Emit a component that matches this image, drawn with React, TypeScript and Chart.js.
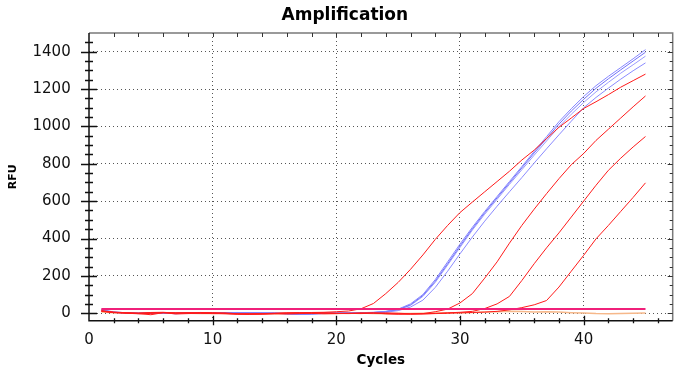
import { useEffect, useRef } from 'react';
import { Chart, registerables } from 'chart.js';

Chart.register(...registerables);

const cycles = [1, 2, 3, 4, 5, 6, 7, 8, 9, 10, 11, 12, 13, 14, 15, 16, 17, 18, 19, 20, 21, 22, 23, 24, 25, 26, 27, 28, 29, 30, 31, 32, 33, 34, 35, 36, 37, 38, 39, 40, 41, 42, 43, 44, 45];

const red1 = [14, 6, 3, 1, 4, 5, 1, 2, 0, -2, -3, -4, -3, -2, 0, 2, 3, 4, 5, 8, 12, 24, 52, 105, 165, 235, 312, 395, 470, 539, 595, 650, 705, 760, 820, 873, 935, 995, 1045, 1096, 1132, 1170, 1210, 1245, 1280];
const red2 = [10, 4, 2, -2, -8, 3, 2, 1, 4, 3, -1, -5, -6, -5, -3, -4, -2, 0, 1, -1, -2, 0, 1, -3, -5, -4, -2, 8, 22, 55, 105, 188, 275, 375, 470, 557, 640, 720, 795, 855, 925, 985, 1045, 1105, 1163];
const red3 = [12, 5, 1, 0, 2, 4, -4, -2, 0, 1, 2, -3, -4, -3, -1, 1, 2, -1, -3, -2, 0, 2, 1, -2, -4, -5, -3, -1, 2, 5, 10, 25, 50, 90, 175, 265, 350, 430, 515, 600, 685, 765, 830, 890, 946];
const red4 = [11, 3, 0, -3, -1, 2, 0, 3, 2, 0, -2, -4, -5, -4, -2, 0, 1, 3, 2, 0, -1, -2, 1, 2, 0, -3, -4, -2, 0, 2, 4, 6, 10, 18, 30, 45, 68, 140, 225, 310, 398, 470, 545, 620, 698];

const blue1 = [18, 5, 2, 0, 1, 0, -2, 2, 3, 1, 2, 3, 3, 2, 1, -3, -6, -3, 0, 1, 2, 3, 5, 10, 22, 50, 100, 180, 275, 370, 460, 545, 625, 705, 785, 866, 945, 1025, 1095, 1160, 1218, 1268, 1315, 1362, 1411];
const blue2 = [16, 6, 3, 1, 0, -1, 0, 3, 4, 2, 3, 4, 2, 1, 0, -2, -5, -4, -1, 0, 1, 2, 4, 9, 20, 45, 95, 172, 265, 360, 452, 538, 618, 698, 778, 858, 935, 1012, 1082, 1145, 1204, 1255, 1303, 1350, 1397];
const blue3 = [20, 7, 2, -1, 1, 2, -1, 1, 2, 0, 1, 2, 4, 3, 2, -1, -4, -2, 1, 2, 3, 2, 3, 8, 18, 42, 90, 165, 258, 352, 445, 530, 610, 690, 768, 846, 922, 998, 1065, 1128, 1185, 1236, 1285, 1330, 1376];
const blue4 = [17, 4, 1, -2, 0, 1, -3, 0, 1, -1, 0, 1, 2, 1, 0, -4, -7, -5, -2, -1, 0, 1, 2, 5, 14, 33, 70, 138, 225, 318, 408, 493, 573, 650, 726, 804, 880, 955, 1028, 1100, 1155, 1205, 1253, 1298, 1340];

const orange = [6, 3, 1, 0, -1, 1, 2, 0, -1, -2, 1, 2, 0, -1, -3, -2, 0, 1, -1, -2, 0, 1, -2, -3, -2, -1, 0, 1, 2, 3, 4, 6, 8, 10, 9, 7, 8, 6, 3, 1, -2, -3, -1, 0, 1];

const threshold = 23;

const xTickLabels = [0, 10, 20, 30, 40];
const yTickLabels = [0, 200, 400, 600, 800, 1000, 1200, 1400];

const X_MIN = 0;
const X_MAX = 47.2;
const Y_MIN = -40;
const Y_MAX = 1500;

const pts = (vals: number[]) => cycles.map((c, i) => ({ x: c, y: vals[i] }));

const framePlugin = {
  id: 'frame',
  afterDatasetsDraw(chart: any) {
    const { ctx, chartArea } = chart;
    const { left, right, top, bottom } = chartArea;
    const xs = chart.scales.x;
    const ys = chart.scales.y;
    ctx.save();
    ctx.strokeStyle = '#7a7a7a';
    ctx.lineWidth = 1.5;
    ctx.beginPath();
    ctx.moveTo(left, top);
    ctx.lineTo(right, top);
    ctx.lineTo(right, bottom);
    ctx.stroke();
    ctx.lineWidth = 1;
    ctx.strokeStyle = '#333';
    ctx.beginPath();
    for (let v = 2; v < X_MAX; v += 2) {
      const px = Math.round(xs.getPixelForValue(v)) + 0.5;
      ctx.moveTo(px, top);
      ctx.lineTo(px, top + 4);
    }
    for (let v = 0; v < Y_MAX; v += 50) {
      const py = Math.round(ys.getPixelForValue(v)) + 0.5;
      const len = v % 200 === 0 ? 5 : 3;
      ctx.moveTo(right, py);
      ctx.lineTo(right - len, py);
    }
    ctx.stroke();

    ctx.strokeStyle = '#111';
    ctx.lineWidth = 1.5;
    ctx.beginPath();
    ctx.moveTo(left, top);
    ctx.lineTo(left, bottom);
    ctx.lineTo(right, bottom);
    ctx.stroke();
    ctx.lineWidth = 1.3;
    ctx.beginPath();
    for (let v = 0; v < Y_MAX; v += 50) {
      const py = Math.round(ys.getPixelForValue(v)) + 0.5;
      const len = v % 200 === 0 ? 8 : 4;
      ctx.moveTo(left - len, py);
      ctx.lineTo(left + len, py);
    }
    for (let v = 2; v < X_MAX; v += 2) {
      const px = Math.round(xs.getPixelForValue(v)) + 0.5;
      const up = v % 10 === 0 ? 5 : 2.5;
      const down = v % 10 === 0 ? 4.5 : 2.5;
      ctx.moveTo(px, bottom - up);
      ctx.lineTo(px, bottom + down);
    }
    ctx.stroke();
    ctx.restore();
  },
};

export default function App() {
  const ref = useRef<HTMLCanvasElement | null>(null);

  useEffect(() => {
    if (!ref.current) return;
    const line = (data: number[], color: string, width = 1) => ({
      data: pts(data),
      borderColor: color,
      backgroundColor: color,
      borderWidth: width,
      pointRadius: 0,
      tension: 0,
      fill: false,
    });
    const chart = new Chart(ref.current, {
      type: 'line',
      data: {
        datasets: [
          line(cycles.map(() => threshold), '#f0207a', 2),
          line(red1, '#ff1a1a'),
          line(red2, '#ff1a1a'),
          line(red3, '#ff1a1a'),
          line(red4, '#ff1a1a'),
          line(blue1, '#8585ff'),
          line(blue2, '#7070f8'),
          line(blue3, '#9a9aff'),
          line(blue4, '#8a8aff'),
          line(orange, '#f6b88a', 1.5),
        ],
      },
      plugins: [framePlugin],
      options: {
        animation: false,
        responsive: false,
        devicePixelRatio: 1,
        layout: { padding: { left: 17, right: 7.3, top: 0, bottom: 0 } },
        plugins: {
          legend: { display: false },
          tooltip: { enabled: false },
          title: {
            display: true,
            text: 'Amplification',
            color: '#000',
            font: { family: 'DejaVu Sans', size: 17, weight: 'bold' },
            padding: { top: 5, bottom: 7.6 },
          },
        },
        scales: {
          x: {
            type: 'linear',
            min: X_MIN,
            max: X_MAX,
            afterFit: (s: any) => {
              s.height = 50.3;
            },
            afterBuildTicks: (s: any) => {
              s.ticks = xTickLabels.map((v) => ({ value: v }));
            },
            ticks: {
              stepSize: 10,
              includeBounds: false,
              autoSkip: false,
              maxRotation: 0,
              padding: 10.5,
              color: '#111',
              font: { family: 'DejaVu Sans', size: 15 },
              callback: (v: any) => String(v),
            },
            grid: {
              color: (c: any) => (c.tick && c.tick.value === 0 ? 'rgba(0,0,0,0)' : '#555'),
              lineWidth: 1,
              drawTicks: false,
            },
            border: { display: false, dash: [1, 3] },
            title: {
              display: true,
              text: 'Cycles',
              color: '#000',
              font: { family: 'DejaVu Sans', size: 13.5, weight: 'bold' },
              padding: { top: 0, bottom: 2.9 },
            },
          },
          y: {
            type: 'linear',
            min: Y_MIN,
            max: Y_MAX,
            afterFit: (s: any) => {
              s.width = 72;
            },
            afterBuildTicks: (s: any) => {
              s.ticks = yTickLabels.map((v) => ({ value: v }));
            },
            ticks: {
              stepSize: 200,
              includeBounds: false,
              autoSkip: false,
              padding: 18.3,
              color: '#111',
              font: { family: 'DejaVu Sans', size: 15 },
              callback: (v: any) => String(v),
            },
            grid: {
              color: '#555',
              lineWidth: 1,
              drawTicks: false,
            },
            border: { display: false, dash: [1, 3] },
            title: {
              display: true,
              text: 'RFU',
              color: '#000',
              font: { family: 'DejaVu Sans', size: 11, weight: 'bold' },
              padding: { top: -10.6, bottom: 0 },
            },
          },
        },
      },
    });
    return () => chart.destroy();
  }, []);

  return (
    <canvas
      ref={ref}
      width={680}
      height={371}
      style={{ position: 'absolute', left: 0, top: 0, width: 680, height: 371, background: '#fff' }}
    />
  );
}
